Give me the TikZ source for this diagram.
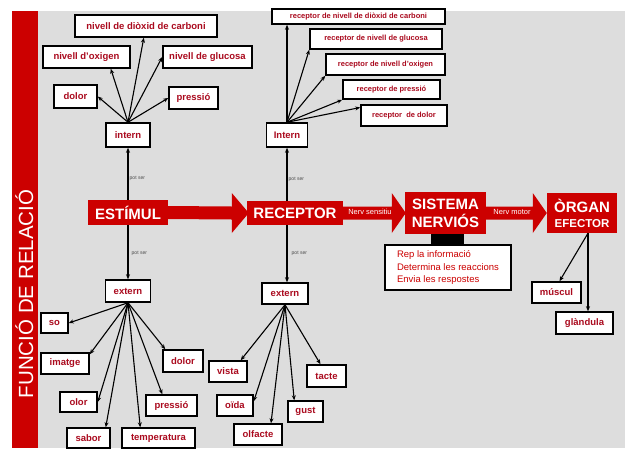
\documentclass[tikz,border=0pt]{standalone}
\usepackage{fontspec}
\setmainfont{Liberation Sans}
\usetikzlibrary{arrows.meta,calc}
\definecolor{redc}{RGB}{204,0,0}
\definecolor{txtred}{RGB}{170,10,30}
\definecolor{greyc}{RGB}{221,221,221}
\pgfdeclarelayer{bgl}
\pgfdeclarelayer{lnl}
\pgfsetlayers{bgl,lnl,main}
\newcommand\bigArrowRC[4]{%
  \fill[redc] ($(#1.east)+(-1,-6.5)$) -- ($(#2.west)+(-#3,-6.5)$) -- ($(#2.west)+(-#3,-20)$)
    -- ($(#2.west)+(#4,0)$) -- ($(#2.west)+(-#3,20)$) -- ($(#2.west)+(-#3,6.5)$)
    -- ($(#1.east)+(-1,6.5)$) -- cycle;}
\begin{document}
\begin{tikzpicture}[x=1pt,y=-1pt,
  sz/.style 2 args={minimum width=#1, minimum height=#2},
  bx/.style={draw=black, line width=1.5pt, fill=white, inner sep=0pt, text=txtred,
    font=\fontsize{9.5}{10}\selectfont\bfseries},
  rbx/.style={bx, font=\fontsize{7.5}{8}\selectfont\bfseries},
  redbox/.style={fill=redc, inner sep=0pt, text=white, align=center,
    font=\fontsize{15}{18}\selectfont\bfseries},
  conn/.style={line width=1.1pt, -{Stealth[length=5pt,width=4pt]}},
  tinylbl/.style={font=\fontsize{5}{6}\selectfont, text=black!70, anchor=west, inner sep=0.5pt},
  nerv/.style={font=\fontsize{7.5}{8}\selectfont, text=white, inner sep=0pt}
]
\useasboundingbox (0,0) rectangle (625,448);
\begin{pgfonlayer}{bgl}
  \fill[white] (0,0) rectangle (625,448);
  \fill[greyc] (38,11) rectangle (625,448);
  \fill[redc] (12,11) rectangle (38,448);
\end{pgfonlayer}

\node[rotate=90, anchor=base, text=white, inner sep=0pt,
  font=\fontsize{20.5}{22}\selectfont] (title) at (33,294) {FUNCIÓ DE RELACIÓ};

% big red shapes
\node[redbox, sz={80}{25}] (estimul) at (128,212.5) {ESTÍMUL};
\node[redbox, sz={96}{24}] (receptor) at (295,213) {RECEPTOR};
\node[redbox, sz={81}{42}, font=\fontsize{15}{18}\selectfont\bfseries] (sistema) at (445.5,213) {SISTEMA\\NERVIÓS};
\node[redbox, sz={70}{40}, font=\fontsize{15}{15}\selectfont\bfseries] (organ) at (582,213) {ÒRGAN\\{\fontsize{11.5}{13}\selectfont EFECTOR}};
\bigArrowRC{estimul}{receptor}{15}{2}
\bigArrowRC{receptor}{sistema}{13}{1}
\bigArrowRC{sistema}{organ}{14}{0}
\node[nerv] (ns) at (370,212) {Nerv sensitiu};
\node[nerv] (nm) at (512,212) {Nerv motor};

\node[fill=black, sz={33}{11}, inner sep=0pt] (blk) at (447.5,239.5) {};
\node[draw=black, line width=1.5pt, fill=white, sz={126}{45}, inner sep=0pt, text=redc,
  align=left, font=\fontsize{9.5}{12.5}\selectfont] (info) at (448,267.5)
  {Rep la informació\\Determina les reaccions\\Envia les respostes};

% left column boxes
\node[bx, sz={142}{22}] (carb) at (146,26) {nivell de diòxid de carboni};
\node[bx, sz={87}{22}] (oxi) at (86.5,57) {nivell d'oxigen};
\node[bx, sz={89}{22}] (gluc) at (207.5,57) {nivell de glucosa};
\node[bx, sz={43}{23}] (dolor1) at (75.5,96.5) {dolor};
\node[bx, sz={49}{22}] (press1) at (193.5,98) {pressió};
\node[bx, sz={44}{24}] (intern1) at (128,135) {intern};
\node[bx, sz={45}{22}] (extern1) at (128,291) {extern};
\node[bx, sz={27}{20}] (so) at (54.5,323) {so};
\node[bx, sz={48}{21}] (imatge) at (65,363.5) {imatge};
\node[bx, sz={37}{20}] (olor) at (78.5,402) {olor};
\node[bx, sz={43}{20}] (sabor) at (88.5,438) {sabor};
\node[bx, sz={73}{20}] (temp) at (158.5,438) {temperatura};
\node[bx, sz={40}{22}] (dolor2) at (183,361) {dolor};
\node[bx, sz={51}{21}] (press2) at (171.5,405.5) {pressió};

% receptor column boxes
\node[rbx, sz={173}{15}] (rcarb) at (358.5,16.5) {receptor de nivell de diòxid de carboni};
\node[rbx, sz={132}{20}] (rgluc) at (376,39) {receptor de nivell de glucosa};
\node[rbx, sz={119}{21}] (roxi) at (385.5,64.5) {receptor de nivell d'oxigen};
\node[rbx, sz={97}{19}] (rpress) at (391.5,89.5) {receptor de pressió};
\node[rbx, sz={86}{21}] (rdolor) at (404,115.5) {receptor\ \ de dolor};
\node[bx, sz={41}{24}] (intern2) at (287,135) {Intern};
\node[bx, sz={46}{21}] (extern2) at (285,293.5) {extern};
\node[bx, sz={38}{21}] (vista) at (228,371.5) {vista};
\node[bx, sz={36}{21}] (oida) at (235,405.5) {oïda};
\node[bx, sz={48}{21}] (olfacte) at (258,434.5) {olfacte};
\node[bx, sz={35}{21}] (gust) at (305.5,411.5) {gust};
\node[bx, sz={39}{22}] (tacte) at (326.5,376) {tacte};

\node[bx, sz={49}{21}] (muscul) at (556.5,292.5) {múscul};
\node[bx, sz={57}{22}] (glandula) at (584.5,323) {glàndula};

% tiny labels
\node[tinylbl] (l1) at (129,178) {pot ser};
\node[tinylbl] (l2) at (131,253) {pot ser};
\node[tinylbl] (l3) at (288,179) {pot ser};
\node[tinylbl] (l4) at (291,253) {pot ser};

% vertical connectors behind red shapes
\begin{pgfonlayer}{lnl}
  \draw[conn] (estimul.center) -- (intern1.south);
  \draw[conn] (estimul.center) -- (extern1.north);
  \coordinate (vr) at (287,213);
  \draw[conn] (vr) -- (intern2.south);
  \draw[conn] (vr) -- (vr |- extern2.north);
\end{pgfonlayer}

% fans
\draw[conn] (intern1.north) -- (carb);
\draw[conn] (intern1.north) -- ($(oxi.south east)+(-20,0)$);
\draw[conn] (intern1.north) -- (gluc.west);
\draw[conn] (intern1.north) -- (dolor1.east);
\draw[conn] (intern1.north) -- (press1.west);

\draw[conn] (intern2.north) -- (intern2.north |- rcarb.south);
\draw[conn] (intern2.north) -- (rgluc.south west);
\draw[conn] (intern2.north) -- (roxi.south west);
\draw[conn] (intern2.north) -- (rpress.south west);
\draw[conn] (intern2.north) -- ($(rdolor.west)+(0,-8)$);

\draw[conn] (extern1.south) -- (so.east);
\draw[conn] (extern1.south) -- ($(imatge.north east)+(0,2)$);
\draw[conn] (extern1.south) -- (olor.east);
\draw[conn] (extern1.south) -- ($(sabor.north east)+(-5,0)$);
\draw[conn] (extern1.south) -- ($(temp.north west)+(19,0)$);
\draw[conn] (extern1.south) -- ($(press2.north west)+(17,0)$);
\draw[conn] (extern1.south) -- ($(dolor2.north west)+(3,0)$);

\draw[conn] (extern2.south) -- ($(vista.north east)+(-7,0)$);
\draw[conn] (extern2.south) -- ($(oida.north east)+(0,7)$);
\draw[conn] (extern2.south) -- ($(olfacte.north)+(13,0)$);
\draw[conn] (extern2.south) -- ($(gust.north west)+(7,0)$);
\draw[conn] (extern2.south) -- ($(tacte.north)+(-6,0)$);

\coordinate (o1) at ($(organ.south)+(6,0)$);
\draw[conn] (o1) -- ($(muscul.north)+(3,0)$);
\draw[conn] (o1) -- (o1 |- glandula.north);
\end{tikzpicture}
\end{document}
